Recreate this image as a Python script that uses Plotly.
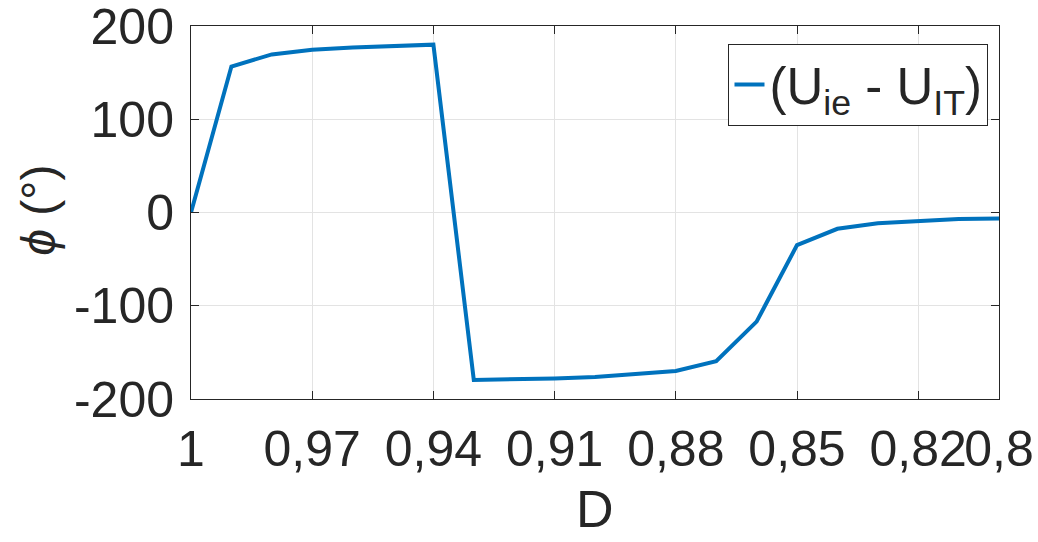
import plotly.graph_objects as go

# Duty ratio D (axis runs from 1 down to 0.8)
duty = [1.00, 0.99, 0.98, 0.97, 0.96, 0.95, 0.94, 0.93, 0.92, 0.91, 0.90,
        0.89, 0.88, 0.87, 0.86, 0.85, 0.84, 0.83, 0.82, 0.81, 0.80]
# Phase difference between U_ie and U_IT, degrees
phase = [0.0, 156.5, 169.5, 174.5, 177.0, 179.0, 180.0, -179.5, -179.0, -178.0, -176.5,
         -173.5, -170.0, -159.5, -117.0, -35.0, -17.5, -11.5, -9.0, -7.0, -6.5]

x_ticks = [1.0, 0.97, 0.94, 0.91, 0.88, 0.85, 0.82, 0.80]
x_tick_text = ["1", "0,97", "0,94", "0,91", "0,88", "0,85", "0,82", "0,8"]
y_ticks = [-200, -100, 0, 100, 200]
y_tick_text = ["-200", "-100", "0", "100", "200"]

FONT = "Liberation Sans, Arial, sans-serif"
TXT = "#262626"
AX = "#262626"
GRID = "#e3e3e3"

fig = go.Figure()
fig.add_trace(go.Scatter(
    x=duty, y=phase, mode="lines",
    line=dict(color="#0072BD", width=4),
    name="(U<sub>ie</sub> - U<sub>IT</sub>)",
))

fig.update_layout(
    width=1038, height=542,
    margin=dict(l=191, r=39, t=26, b=143, autoexpand=False),
    paper_bgcolor="white", plot_bgcolor="white",
    font=dict(family=FONT, color=TXT, size=48),
    showlegend=True,
    legend=dict(
        x=0.987, y=0.952, xanchor="right", yanchor="top",
        bordercolor=AX, borderwidth=1, bgcolor="white",
        font=dict(size=51, family=FONT, color=TXT),
        itemwidth=30, tracegroupgap=0,
    ),
    annotations=[
        dict(text="D", xref="paper", yref="paper", x=0.5, y=-0.376,
             xanchor="center", yanchor="bottom", borderpad=0, showarrow=False,
             font=dict(size=52, family=FONT, color=TXT)),
        dict(text="<i>ϕ</i> (°)", xref="paper", yref="paper", x=-0.188, y=0.505,
             xanchor="center", yanchor="middle", textangle=-90, showarrow=False,
             font=dict(size=48, family=FONT, color=TXT)),
    ],
)

fig.update_xaxes(
    range=[1.0, 0.8], tickvals=x_ticks, ticktext=x_tick_text,
    tickangle=0, ticklabeloverflow="allow", automargin=False,
    showgrid=True, gridcolor=GRID, gridwidth=1,
    showline=True, linecolor=AX, linewidth=1, mirror="ticks",
    ticks="inside", ticklen=8, tickcolor=AX,
    tickfont=dict(size=50, family=FONT, color=TXT),
    ticklabelstandoff=6,
    zeroline=False,
)
fig.update_yaxes(
    range=[-200, 200], tickvals=y_ticks, ticktext=y_tick_text,
    ticklabeloverflow="allow", automargin=False,
    showgrid=True, gridcolor=GRID, gridwidth=1,
    showline=True, linecolor=AX, linewidth=1, mirror="ticks",
    ticks="inside", ticklen=8, tickcolor=AX,
    tickfont=dict(size=50, family=FONT, color=TXT),
    ticklabelstandoff=6,
    zeroline=False,
)

fig.write_html("out.html")
